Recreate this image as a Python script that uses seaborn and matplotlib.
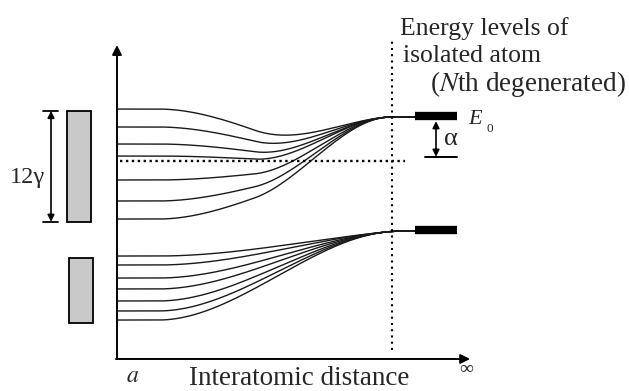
import numpy as np
import pandas as pd
import matplotlib
matplotlib.use("Agg")
import matplotlib.pyplot as plt
import seaborn as sns
from matplotlib.patches import Rectangle

# ---------------- data (energies in units of gamma, E0 = 0) ----------------
E0 = 0.0
alpha = 4.3                       # E0 - alpha marked by arrow
band_centre_line = -4.8           # dotted horizontal line
upper_start = [0.86, -1.08, -2.92, -4.22, -6.81, -9.08, -11.03]
E1 = -12.32                       # lower isolated-atom level
lower_start = [-15.03, -16.0, -17.41, -18.59, -19.89, -20.97, -21.95]
x_isolated = 1.0                  # interatomic distance where levels merge
labels_top = ["Energy levels of", "isolated atom", "($N$th degenerated)"]
x_label = "Interatomic distance"

# ---------------- setup ----------------
sns.set_style("white")
plt.rcParams["font.family"] = ["Liberation Serif", "DejaVu Serif"]
plt.rcParams["mathtext.fontset"] = "stix"

W, H = 629, 391
fig = plt.figure(figsize=(W / 100, H / 100), dpi=100)
ax = fig.add_axes([0, 0, 1, 1])
px_x, px_y = 275.0, 9.25          # pixels per unit
ox, oy = 117, 117
ax.set_xlim(-ox / px_x, (W - ox) / px_x)
ax.set_ylim(-(H - oy) / px_y, oy / px_y)
ax.axis("off")


def smooth_down(x, a, b):
    u = np.clip((x - a) / (b - a), 0, 1)
    return 1 - (3 * u ** 2 - 2 * u ** 3)


xs = np.linspace(0, 1.084, 300)
rows = []
for band, (starts, Elev, ca, cb) in enumerate(
        [(upper_start, E0, 0.5, 1.0), (lower_start, E1, 0.15, 1.05)]):
    c0 = (max(starts) + min(starts)) / 2
    centre = Elev + (c0 - Elev) * smooth_down(xs, ca, cb)
    width = smooth_down(xs, 0.15, 0.98)
    for i, s in enumerate(starts):
        ys = centre + (s - c0) * width
        for xv, yv in zip(xs, ys):
            rows.append((xv, yv, f"{band}-{i}"))
df = pd.DataFrame(rows, columns=["x", "E", "level"])

sns.lineplot(data=df, x="x", y="E", units="level", estimator=None,
             color="#1a1a1a", lw=1.0, sort=False, legend=False, ax=ax)

# axes arrows
y_axis_bottom = -26.16
ax.annotate("", xy=(0, 7.78), xytext=(0, y_axis_bottom),
            arrowprops=dict(arrowstyle="-|>", lw=1.4, color="black",
                            mutation_scale=14, shrinkA=0, shrinkB=0))
ax.annotate("", xy=(1.284, y_axis_bottom), xytext=(-0.004, y_axis_bottom),
            arrowprops=dict(arrowstyle="-|>", lw=1.4, color="black",
                            mutation_scale=14, shrinkA=0, shrinkB=0))

# dotted lines
ax.plot([x_isolated, x_isolated], [-25.2, 8.54], color="black",
        lw=1.5, ls=(0, (1, 2)))
ax.plot([0.01, 1.047], [band_centre_line, band_centre_line], color="black",
        lw=1.7, ls=(0, (1, 1.5)))

# isolated-atom level bars
for Elev in (E0, E1):
    ax.plot([1.084, 1.236], [Elev + 0.15, Elev + 0.15], color="black",
            lw=6.0, solid_capstyle="butt")

# alpha arrow
ax.annotate("", xy=(1.16, E0 - 0.45), xytext=(1.16, E0 - alpha),
            arrowprops=dict(arrowstyle="<|-|>", lw=1.2, color="black",
                            mutation_scale=10, shrinkA=0, shrinkB=0))
ax.plot([1.12, 1.236], [E0 - alpha, E0 - alpha], color="black", lw=1.4)
ax.text(1.215, -2.4, "α", fontsize=19, ha="center", va="center")
ax.text(1.276, -0.757, "E", fontsize=16, style="italic", ha="left",
        va="baseline")
ax.text(1.342, -1.62, "0", fontsize=9.5, ha="left", va="baseline")

# band rectangles
for starts, x0 in ((upper_start, -0.182), (lower_start, -0.1745)):
    top, bot = max(starts) - 0.2, min(starts) - 0.3
    ax.add_patch(Rectangle((x0, bot), 0.0873, top - bot, facecolor="#c9c9c9",
                           edgecolor="black", lw=1.3))

# 12 gamma arrow
top, bot = max(upper_start) - 0.2, min(upper_start) - 0.3
ax.annotate("", xy=(-0.24, top), xytext=(-0.24, bot),
            arrowprops=dict(arrowstyle="<|-|>", lw=1.2, color="black",
                            mutation_scale=10, shrinkA=0, shrinkB=0))
for yy in (top, bot):
    ax.plot([-0.269, -0.215], [yy, yy], color="black", lw=1.3)
ax.text(-0.263, -7.14, "12γ", fontsize=17.5, ha="right", va="baseline")

# texts
ax.text(1.029, 8.86, labels_top[0], fontsize=18.5, ha="left", va="baseline")
ax.text(1.04, 5.95, labels_top[1], fontsize=18.5, ha="left", va="baseline")
ax.text(1.138, 2.81, labels_top[2], fontsize=19.5, ha="left", va="baseline")
ax.text(0.662, -28.95, x_label, fontsize=19.5, ha="center", va="baseline")
ax.text(0.055, -28.1, "$a$", fontsize=17, ha="center", va="center")
ax.text(1.27, -27.3, "∞", fontsize=14, ha="center", va="center")

fig.savefig("out.png", dpi=100, facecolor="white")
